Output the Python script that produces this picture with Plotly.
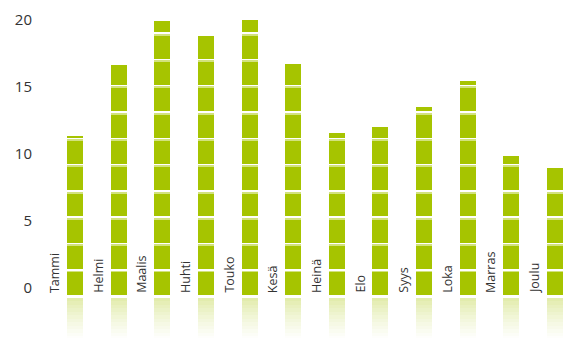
import plotly.graph_objects as go

months = ["Tammi", "Helmi", "Maalis", "Huhti", "Touko", "Kesä",
          "Heinä", "Elo", "Syys", "Loka", "Marras", "Joulu"]
values = [11.3, 16.6, 19.9, 18.8, 20.0, 16.7, 11.5, 12.0, 13.5, 15.4, 9.8, 8.9]
y_ticks = [0, 5, 10, 15, 20]

GREEN = "#a6c400"
PALE = "#d2e27e"
BASE = -0.56          # bar foot
FIRST_GAP = 1.306     # first white stripe centre
STEP = 1.963          # stripe spacing
GAP = 0.15            # white stripe thickness
PALE_H = 0.07
BAR_W = 0.367

xs = list(range(len(months)))

seg_x, seg_base, seg_h = [], [], []
pale_x, pale_base, pale_h = [], [], []
for i, v in zip(xs, values):
    lo = BASE
    k = 0
    while lo < v:
        gap_c = FIRST_GAP + k * STEP
        hi = min(v, gap_c - GAP / 2)
        if hi > lo:
            seg_x.append(i); seg_base.append(lo); seg_h.append(hi - lo)
            if k > 0:
                pale_x.append(i); pale_base.append(hi - PALE_H); pale_h.append(PALE_H)
        lo = gap_c + GAP / 2
        k += 1
        # mark top of the segment just below each gap as pale
    # fix pale: pale strip belongs to top of the lower segment (below each gap)

# rebuild pale strips properly: at top of each segment that has a gap above it
pale_x, pale_base, pale_h = [], [], []
for i, v in zip(xs, values):
    k = 0
    while True:
        gap_c = FIRST_GAP + k * STEP
        if gap_c + GAP / 2 >= v:
            break
        top = gap_c - GAP / 2
        pale_x.append(i); pale_base.append(top - PALE_H); pale_h.append(PALE_H)
        k += 1

fig = go.Figure()

# reflection (fading)
n_bands = 12
refl_top = -0.78
band = 0.26
for b in range(n_bands):
    a = 0.32 * (1 - b / n_bands) ** 1.3
    fig.add_trace(go.Bar(
        x=xs, y=[-band] * len(xs), base=[refl_top - b * band] * len(xs),
        width=BAR_W, marker=dict(color=f"rgba(166,196,0,{a:.3f})", line_width=0),
        hoverinfo="skip", showlegend=False))

fig.add_trace(go.Bar(x=seg_x, y=seg_h, base=seg_base, width=BAR_W,
                     marker=dict(color=GREEN, line_width=0), showlegend=False))
fig.add_trace(go.Bar(x=pale_x, y=pale_h, base=pale_base, width=BAR_W,
                     marker=dict(color=PALE, line_width=0), showlegend=False,
                     hoverinfo="skip"))

for i, m in zip(xs, months):
    fig.add_annotation(x=i - 0.48, y=BASE, text=m, textangle=-90,
                       xanchor="center", yanchor="bottom", showarrow=False,
                       font=dict(family="Open Sans", size=12.5, color="#333333"))

fig.update_layout(
    width=563, height=338,
    margin=dict(l=33, r=0, t=0, b=0),
    paper_bgcolor="white", plot_bgcolor="white",
    barmode="overlay", bargap=0,
    xaxis=dict(range=[-0.963, 11.183], visible=False),
    yaxis=dict(range=[-3.77, 21.46], tickvals=y_ticks, showgrid=False,
               zeroline=False, showline=False, ticks="",
               tickfont=dict(family="Open Sans", size=15, color="#333333")),
)

fig.write_html("out.html")
